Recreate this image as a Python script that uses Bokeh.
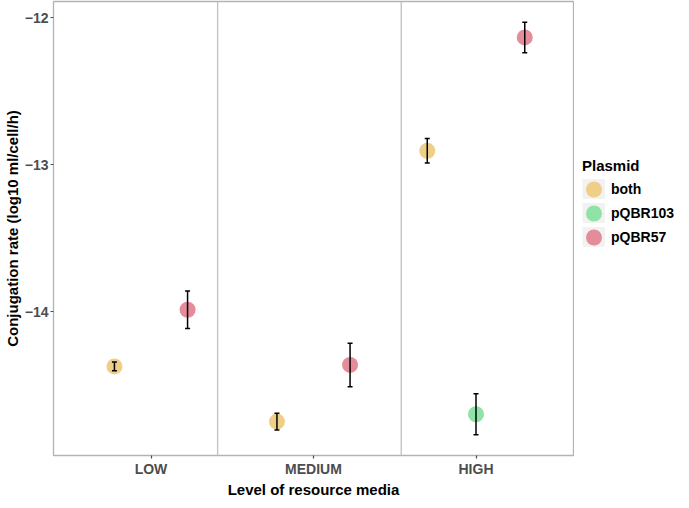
from bokeh.plotting import figure
from bokeh.layouts import row
from bokeh.models import (ColumnDataSource, Range1d, FixedTicker, Whisker, TeeHead,
                          Legend, LegendItem, Span)
from bokeh.embed import file_html
from bokeh.resources import INLINE

# ---- data ----
categories = ["LOW", "MEDIUM", "HIGH"]
plasmids = ["both", "pQBR103", "pQBR57"]
plasmid_colors = ["#EFCF87", "#8FE3A6", "#E58C9B"]

level = ["LOW", "LOW", "MEDIUM", "MEDIUM", "HIGH", "HIGH", "HIGH"]
plasmid = ["both", "pQBR57", "both", "pQBR57", "both", "pQBR103", "pQBR57"]
rate = [-14.37, -13.985, -14.745, -14.36, -12.905, -14.695, -12.135]
rate_se = [0.03, 0.128, 0.057, 0.148, 0.083, 0.140, 0.104]
separators = [1.41, 2.54]
y_ticks = [-14, -13, -12]

FONT = "Liberation Sans"
W_MAIN, W_LEG, H = 574, 107, 500

# ---- dodge positions (ggplot position_dodge, width 0.9) ----
dodge_width = 0.9
xs = []
for lv, pl in zip(level, plasmid):
    groups = [g for g in plasmids if any(l == lv and q == g for l, q in zip(level, plasmid))]
    n = len(groups)
    i = groups.index(pl)
    xs.append(categories.index(lv) + 1 + (i - (n - 1) / 2) * dodge_width / n)

upper = [r + e for r, e in zip(rate, rate_se)]
lower = [r - e for r, e in zip(rate, rate_se)]
colors = [plasmid_colors[plasmids.index(pl)] for pl in plasmid]

src = ColumnDataSource(dict(x=xs, y=rate, upper=upper, lower=lower, color=colors,
                            plasmid=plasmid))

lo, hi = min(lower), max(upper)
pad = 0.05 * (hi - lo)

p = figure(width=W_MAIN, height=H, output_backend="svg", toolbar_location=None,
           x_range=Range1d(0.4, len(categories) + 0.6),
           y_range=Range1d(lo - pad, hi + pad),
           min_border_top=1, min_border_left=48, min_border_right=1,
           min_border_bottom=30)
p.background_fill_color = "white"
p.border_fill_color = "white"
p.outline_line_color = "#B3B3B3"
p.outline_line_width = 1.3
p.xgrid.visible = False
p.ygrid.visible = False

for s in separators:
    p.add_layout(Span(location=s, dimension="height", line_color="#C4C4C4",
                      line_width=1.4, level="underlay"))

p.scatter("x", "y", source=src, size=16, fill_color="color", line_color=None)

head = dict(size=5, line_width=1.5, line_color="black")
p.add_layout(Whisker(base="x", upper="upper", lower="lower", source=src,
                     dimension="height", line_color="black", line_width=1.5,
                     level="annotation",
                     upper_head=TeeHead(**head), lower_head=TeeHead(**head)))

# axes
p.xaxis.ticker = FixedTicker(ticks=list(range(1, len(categories) + 1)))
p.xaxis.major_label_overrides = {i + 1: c for i, c in enumerate(categories)}
p.yaxis.ticker = FixedTicker(ticks=y_ticks)
p.yaxis.major_label_overrides = {t: ("\u2212" if t < 0 else "") + str(abs(t)) for t in y_ticks}
p.xaxis.axis_label = "Level of resource media"
p.yaxis.axis_label = "Conjugation rate (log10 ml/cell/h)"
for ax in (p.xaxis, p.yaxis):
    ax.axis_line_color = None
    ax.major_tick_line_color = "#4D4D4D"
    ax.major_tick_line_width = 1.2
    ax.major_tick_out = 3
    ax.major_tick_in = 0
    ax.minor_tick_line_color = None
    ax.major_label_text_font = FONT
    ax.major_label_text_font_style = "bold"
    ax.major_label_text_font_size = "14px"
    ax.major_label_text_color = "#4D4D4D"
    ax.major_label_standoff = 2
    ax.axis_label_text_font = FONT
    ax.axis_label_text_font_style = "bold"
    ax.axis_label_text_font_size = "15px"
    ax.axis_label_text_color = "black"
    ax.axis_label_standoff = 1

# ---- legend panel: a bare figure holding only the legend ----
lg = figure(width=W_LEG, height=H, output_backend="svg", toolbar_location=None,
            x_range=Range1d(0, 1), y_range=Range1d(0, 1),
            min_border=0, outline_line_color=None)
lg.axis.visible = False
lg.grid.visible = False
lg.background_fill_color = "white"
lg.border_fill_color = "white"

nan = float("nan")
key_bg = lg.line(x=[nan], y=[nan], line_color="#F2F2F2", line_width=23)
items = []
for pl, c in zip(plasmids, plasmid_colors):
    e = lg.ellipse(x=[nan], y=[nan], width=16, height=16, width_units="screen",
                   height_units="screen", fill_color=c, line_color=None)
    items.append(LegendItem(label=pl, renderers=[key_bg, e]))

legend = Legend(items=items, title="Plasmid", location=(8, 208),
                glyph_width=23, glyph_height=20, spacing=4, label_standoff=6,
                padding=6, margin=0, border_line_color=None, background_fill_alpha=0,
                label_text_font=FONT, label_text_font_style="bold",
                label_text_font_size="14px", label_text_color="black",
                title_text_font=FONT, title_text_font_style="bold",
                title_text_font_size="15px", title_text_color="black", title_standoff=5)
lg.add_layout(legend, "center")

layout = row(p, lg)
open("out.html", "w").write(file_html(layout, INLINE))
